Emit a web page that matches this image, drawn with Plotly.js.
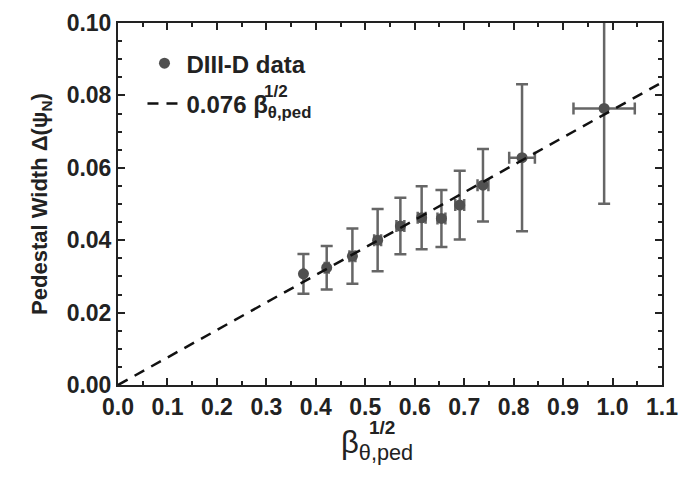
<!DOCTYPE html>
<html>
<head>
<meta charset="utf-8">
<script src="https://cdn.plot.ly/plotly-3.0.1.min.js"></script>
<style>html,body{margin:0;padding:0;background:#fff;}#chart{width:681px;height:479px;}</style>
</head>
<body>
<div id="chart"></div>
<script>
const betaSqrt = [0.375, 0.422, 0.474, 0.525, 0.571, 0.614, 0.654, 0.691, 0.738, 0.817, 0.983];
const pedWidth = [0.0307, 0.0324, 0.0356, 0.0400, 0.0439, 0.0462, 0.0460, 0.0497, 0.0552, 0.0628, 0.0764];
const yErr = [0.0055, 0.0060, 0.0076, 0.0086, 0.0078, 0.0087, 0.0079, 0.0095, 0.0100, 0.0203, 0.0263];
const xErr = [0.000, 0.004, 0.006, 0.007, 0.008, 0.008, 0.008, 0.009, 0.011, 0.026, 0.062];
const fitX = [0, 1.1];
const fitY = [0, 0.0836];
const xTicks = [0, 0.1, 0.2, 0.3, 0.4, 0.5, 0.6, 0.7, 0.8, 0.9, 1.0, 1.1];
const xTickText = ['0.0','0.1','0.2','0.3','0.4','0.5','0.6','0.7','0.8','0.9','1.0','1.1'];
const yTicks = [0, 0.02, 0.04, 0.06, 0.08, 0.10];
const yTickText = ['0.00','0.02','0.04','0.06','0.08','0.10'];

const FONT = '"Liberation Sans", Arial, sans-serif';

const traces = [
  {
    x: betaSqrt, y: pedWidth, type: 'scatter', mode: 'markers',
    name: '<b>DIII-D data</b>', legendgroup: 'a',
    marker: {color: '#505050', size: 11, symbol: 'circle'},
    error_y: {type: 'data', array: yErr, visible: true, color: '#666666', thickness: 2.5, width: 6},
    error_x: {type: 'data', array: xErr, visible: true, color: '#666666', thickness: 2.5, width: 6}
  },
  {
    x: fitX, y: fitY, type: 'scatter', mode: 'lines',
    name: '<b>0.076 β<sub>θ,ped</sub></b>', legendgroup: 'b',
    line: {color: '#111111', width: 2.5, dash: '11px,8px'}
  }
];

const layout = {
  width: 681, height: 479,
  margin: {l: 118, r: 19, t: 23, b: 94},
  paper_bgcolor: '#ffffff', plot_bgcolor: '#ffffff',
  font: {family: FONT, color: '#222222', size: 20},
  showlegend: true,
  legend: {x: 0.045, y: 0.95, xanchor: 'left', yanchor: 'top', bgcolor: 'rgba(0,0,0,0)',
           traceorder: 'grouped', tracegroupgap: 6, itemwidth: 34,
           font: {family: FONT, size: 24, color: '#222'}},
  xaxis: {
    range: [0, 1.1], tickvals: xTicks, ticktext: xTickText,
    ticks: 'inside', ticklen: 7, tickwidth: 2, tickcolor: '#222',
    minor: {dtick: 0.05, ticks: 'inside', ticklen: 4, tickwidth: 2, tickcolor: '#222'},
    showline: true, linecolor: '#222', linewidth: 2, mirror: 'ticks',
    showgrid: false, zeroline: false,
    tickfont: {family: FONT, size: 23, color: '#222', weight: 'bold'},
    title: {text: 'β<sub>θ,ped</sub>&nbsp;&nbsp;&nbsp;', font: {family: FONT, size: 31, color: '#222'}, standoff: 13}
  },
  yaxis: {
    range: [0, 0.1], tickvals: yTicks, ticktext: yTickText,
    ticks: 'inside', ticklen: 7, tickwidth: 2, tickcolor: '#222',
    minor: {dtick: 0.005, ticks: 'inside', ticklen: 4, tickwidth: 2, tickcolor: '#222'},
    showline: true, linecolor: '#222', linewidth: 2, mirror: 'ticks',
    showgrid: false, zeroline: false,
    tickfont: {family: FONT, size: 23, color: '#222', weight: 'bold'},
    title: {text: '<b>Pedestal Width Δ(ψ<sub>N</sub>)</b>', font: {family: FONT, size: 22, color: '#222'}, standoff: 13}
  },
  annotations: [
    {xref: 'paper', yref: 'paper', x: 0.5, y: 0, yshift: -42, xshift: -23, text: '<b>1/2</b>', showarrow: false,
     font: {family: FONT, size: 19, color: '#222'}, xanchor: 'left', yanchor: 'middle'},
    {xref: 'paper', yref: 'paper', x: 0.264, y: 0.812, text: '<b>1/2</b>', showarrow: false,
     font: {family: FONT, size: 17, color: '#222'}, xanchor: 'left', yanchor: 'middle'}
  ]
};

Plotly.newPlot('chart', traces, layout, {displayModeBar: false, staticPlot: true});
</script>
</body>
</html>
